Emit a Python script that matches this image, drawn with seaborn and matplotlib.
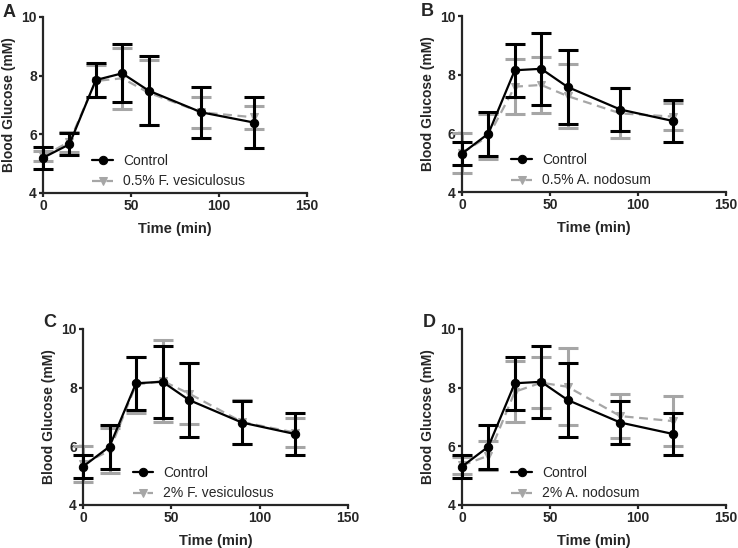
import matplotlib
matplotlib.use("Agg")
import numpy as np
import pandas as pd
import matplotlib.pyplot as plt
import seaborn as sns

time_min = [0, 15, 30, 45, 60, 90, 120]

# control group, panel A (own cohort)
ctrl_a_mean = [5.20, 5.66, 7.85, 8.08, 7.49, 6.75, 6.40]
ctrl_a_sd = [0.37, 0.38, 0.57, 0.99, 1.18, 0.87, 0.86]
# control group shared by panels B, C, D
ctrl_mean = [5.31, 5.99, 8.15, 8.20, 7.58, 6.81, 6.42]
ctrl_sd = [0.40, 0.75, 0.90, 1.23, 1.27, 0.73, 0.72]

fv05_mean = [5.25, 5.75, 7.82, 7.91, 7.42, 6.75, 6.58]
fv05_sd = [0.17, 0.34, 0.55, 1.04, 1.10, 0.52, 0.40]
an05_mean = [5.33, 5.90, 7.59, 7.65, 7.27, 6.68, 6.57]
an05_sd = [0.67, 0.77, 0.93, 0.95, 1.08, 0.85, 0.45]
fv2_mean = [5.40, 5.85, 8.10, 8.23, 7.80, 6.83, 6.47]
fv2_sd = [0.62, 0.77, 0.95, 1.40, 1.04, 0.75, 0.48]
an2_mean = [5.35, 5.68, 7.86, 8.17, 8.03, 7.03, 6.86]
an2_sd = [0.30, 0.50, 1.04, 0.87, 1.31, 0.74, 0.85]

panels = [
    ("A", "0.5% F. vesiculosus", ctrl_a_mean, ctrl_a_sd, fv05_mean, fv05_sd),
    ("B", "0.5% A. nodosum", ctrl_mean, ctrl_sd, an05_mean, an05_sd),
    ("C", "2% F. vesiculosus", ctrl_mean, ctrl_sd, fv2_mean, fv2_sd),
    ("D", "2% A. nodosum", ctrl_mean, ctrl_sd, an2_mean, an2_sd),
]

sns.set_style("ticks")
plt.rcParams["font.family"] = ["Liberation Sans", "DejaVu Sans"]

W, H = 738, 548
fig = plt.figure(figsize=(W / 100, H / 100), dpi=100)
# axes boxes in pixels: left, top, right, bottom
boxes = [(43, 17, 307, 193), (462, 16, 726, 192),
         (83, 329, 348, 505), (462, 329, 726, 505)]
# panel letter anchor (left, baseline) in pixels
letter_pos = [(3, 17), (421, 16), (43, 327), (423, 327)]

GREY = "#a6a6a6"

for (letter, trt_name, cm, cs, tm, ts), (l, t, r, b), (lx, ly) in zip(panels, boxes, letter_pos):
    ax = fig.add_axes([l / W, 1 - b / H, (r - l) / W, (b - t) / H])
    df = pd.DataFrame({
        "time": time_min * 2,
        "glucose": cm + tm,
        "sd": cs + ts,
        "group": ["Control"] * len(time_min) + [trt_name] * len(time_min),
    })
    trt = df[df.group == trt_name]
    ctl = df[df.group == "Control"]

    # treatment underneath
    ax.errorbar(trt.time, trt.glucose, yerr=trt.sd, fmt="none", ecolor=GREY,
                elinewidth=2.2, capsize=7, capthick=2.2, zorder=2, clip_on=False)
    sns.lineplot(data=trt, x="time", y="glucose", ax=ax, color=GREY, lw=1.6,
                 linestyle=(0, (4, 2.5)), marker="v", markersize=5.5,
                 markeredgecolor=GREY, label=trt_name, zorder=3, clip_on=False)
    ax.errorbar(ctl.time, ctl.glucose, yerr=ctl.sd, fmt="none", ecolor="black",
                elinewidth=2.2, capsize=7, capthick=2.2, zorder=4, clip_on=False)
    sns.lineplot(data=ctl, x="time", y="glucose", ax=ax, color="black", lw=1.6,
                 marker="o", markersize=6, markeredgecolor="black",
                 label="Control", zorder=5, clip_on=False)

    ax.set_xlim(0, 150)
    ax.set_ylim(4, 10)
    ax.set_xticks([0, 50, 100, 150])
    ax.set_yticks([4, 6, 8, 10])
    for s in ("top", "right"):
        ax.spines[s].set_visible(False)
    for s in ("left", "bottom"):
        ax.spines[s].set_linewidth(1.6)
    ax.tick_params(width=1.6, length=3, pad=1.5, labelsize=10)
    for lbl in ax.get_xticklabels() + ax.get_yticklabels():
        lbl.set_fontweight("bold")
    ax.set_xlabel("Time (min)", fontsize=10.5, fontweight="bold", labelpad=6)
    ax.set_ylabel("Blood Glucose (mM)", fontsize=10, fontweight="bold", labelpad=4)

    h, lab = ax.get_legend_handles_labels()
    order = [lab.index("Control"), lab.index(trt_name)]
    ax.legend([h[i] for i in order], [lab[i] for i in order], loc="lower left",
              bbox_to_anchor=(0.14, -0.045), frameon=False, fontsize=10,
              handlelength=1.45, handletextpad=0.75, labelspacing=0.45)

    fig.text(lx / W, 1 - ly / H, letter, fontsize=13,
             fontweight="bold", ha="left", va="baseline")

fig.savefig("out.png", dpi=100)
